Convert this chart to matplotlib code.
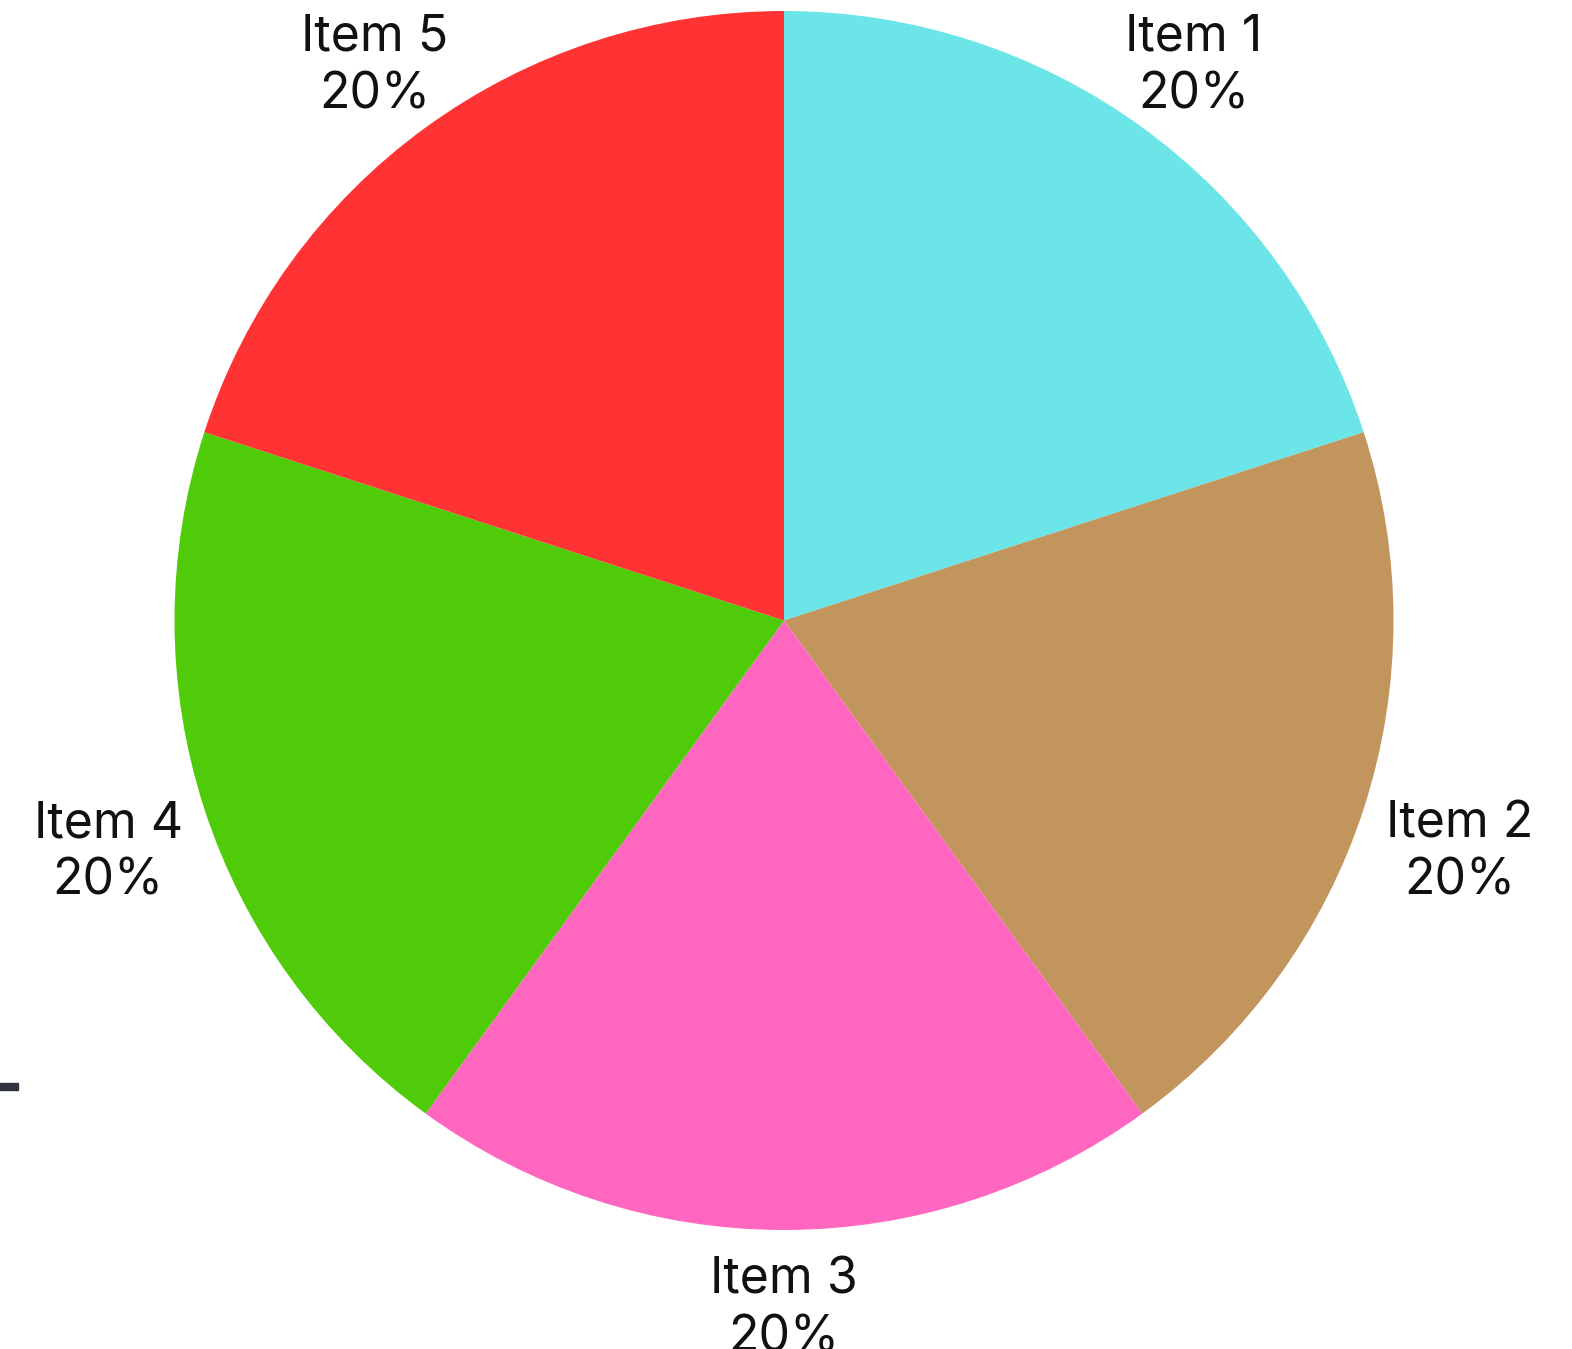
import numpy as np
import matplotlib.pyplot as plt
from matplotlib.patches import Rectangle

# Data
labels = ["Item 1", "Item 2", "Item 3", "Item 4", "Item 5"]
values = [20, 20, 20, 20, 20]
colors = ["#6CE5E8", "#C2955C", "#FF66C0", "#4FCB0A", "#FF3333"]

W, H = 1572, 1349
R = 609.5
cx, cy = 784, H - 620.5

fig = plt.figure(figsize=(W / 100, H / 100), dpi=100)
ax = fig.add_axes([0, 0, 1, 1])

total = sum(values)
texts_lbl = [f"{l}\n{v / total * 100:.0f}%" for l, v in zip(labels, values)]

wedges, texts = ax.pie(values, colors=colors, labels=texts_lbl,
                       startangle=90, counterclock=False,
                       radius=R, center=(cx, cy), frame=True,
                       textprops=dict(fontsize=36, family="Inter", color="#111111",
                                      linespacing=1.28))

# push each label outward so it sits just off the rim
for w, t in zip(wedges, texts):
    ang = np.deg2rad((w.theta1 + w.theta2) / 2)
    ux, uy = np.cos(ang), np.sin(ang)
    dx = R + 64 + 39 * abs(ux)
    dy = R + 138 - 66 * abs(uy)
    t.set_position((cx + dx * ux, cy + dy * uy - 7))
    t.set_horizontalalignment("center")
    t.set_verticalalignment("center")
    t.set_multialignment("center")

ax.set_xlim(0, W)
ax.set_ylim(0, H)
ax.set_aspect("equal")
ax.axis("off")

# small dark mark at left edge
fig.patches.append(Rectangle((0, (H - 1090) / H), 18 / W, 7 / H,
                             transform=fig.transFigure, color="#2F3440"))

fig.savefig("out.png", dpi=100)
